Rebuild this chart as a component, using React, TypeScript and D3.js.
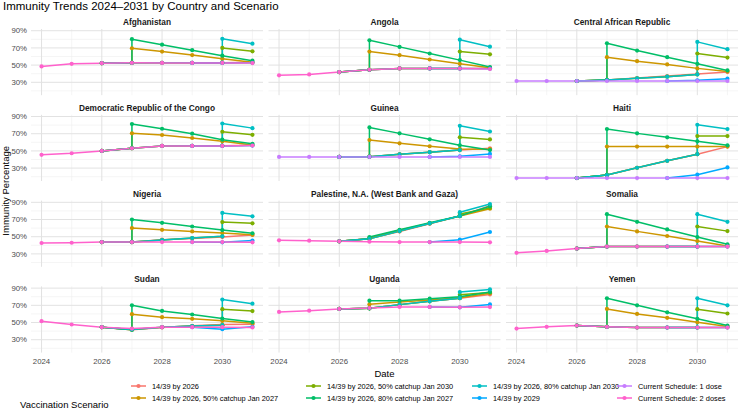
import React from 'react';
import * as d3 from 'd3';

type Pt = [number, number];

// consecutive yearly values starting at a given year
const run = (start: number, values: number[]): Pt[] => values.map((v, i) => [start + i, v]);

const years = [2024, 2025, 2026, 2027, 2028, 2029, 2030, 2031];
const xTicks = [2024, 2026, 2028, 2030];
const yTicks = [30, 50, 70, 90];
const yMinor = [20, 40, 60, 80];

const scenarios = [
  '14/39 by 2026',
  '14/39 by 2026, 50% catchup Jan 2027',
  '14/39 by 2026, 50% catchup Jan 2030',
  '14/39 by 2026, 80% catchup Jan 2027',
  '14/39 by 2026, 80% catchup Jan 2030',
  '14/39 by 2029',
  'Current Schedule: 1 dose',
  'Current Schedule: 2 doses',
];
const palette = ['#F8766D', '#CD9600', '#7CAE00', '#00BE67', '#00BFC4', '#00A9FF', '#C77CFF', '#FF61CC'];

const countries = [
  'Afghanistan', 'Angola', 'Central African Republic',
  'Democratic Republic of the Congo', 'Guinea', 'Haiti',
  'Nigeria', 'Palestine, N.A. (West Bank and Gaza)', 'Somalia',
  'Sudan', 'Uganda', 'Yemen',
];

// one entry per scenario, in the order of `scenarios` (null = not modelled)
const afghanistan: (Pt[] | null)[] = [
  run(2026, [52.3, 52.6, 52.6, 52.7, 52.8, 53.2]),
  [...run(2026, [52.3, 52.6]), ...run(2027, [69.6, 65.8, 61.7, 57.5, 53.2])],
  [...run(2026, [52.3, 52.6, 52.6, 52.7, 52.8]), ...run(2030, [70, 66])],
  [...run(2026, [52.3, 52.6]), ...run(2027, [80.2, 73.8, 67.4, 61, 55.1])],
  [...run(2026, [52.3, 52.6, 52.6, 52.7, 52.8]), ...run(2030, [80.6, 74.9])],
  run(2029, [52.5, 52.5, 52.6]),
  null,
  run(2024, [48.5, 51.5, 52.3, 52.6, 52.5, 52.5, 52.5, 52.4]),
];

const angola: (Pt[] | null)[] = [
  run(2026, [41.9, 44.6, 46.2, 46.2, 46.2, 46.3]),
  [...run(2026, [41.9, 44.6]), ...run(2027, [65.8, 61.5, 56.5, 51.5, 47])],
  [...run(2026, [41.9, 44.6, 46.2, 46.2, 46.2]), ...run(2030, [65.8, 62.5])],
  [...run(2026, [41.9, 44.6]), ...run(2027, [78.8, 71.2, 63.5, 55.8, 47.8])],
  [...run(2026, [41.9, 44.6, 46.2, 46.2, 46.2]), ...run(2030, [79.6, 71.4])],
  run(2029, [46.2, 46, 45.8]),
  null,
  run(2024, [38.1, 39.2, 41.9, 44.6, 46.2, 46.2, 46, 45.5]),
];

const car: (Pt[] | null)[] = [
  run(2026, [31.5, 32.7, 35, 37.3, 39.6, 41.9]),
  [...run(2026, [31.5, 32.7]), ...run(2027, [59.2, 54.6, 50.8, 46.2, 42.7])],
  [...run(2026, [31.5, 32.7, 34.6, 36.5, 39.2]), ...run(2030, [63.5, 58.8])],
  [...run(2026, [31.5, 32.7]), ...run(2027, [75.4, 66.9, 59.2, 51.5, 43.8])],
  [...run(2026, [31.5, 32.7, 34.6, 36.5, 39.2]), ...run(2030, [77, 68.5])],
  run(2029, [31.5, 32.3, 34.2]),
  run(2024, [31.5, 31.5, 31.5, 31.5, 31.5, 31.5, 31.5, 31.5]),
  null,
];

const drc: (Pt[] | null)[] = [
  run(2026, [50, 53.1, 55.8, 55.9, 56, 56.5]),
  [...run(2026, [50, 53.1]), ...run(2027, [70.4, 68.5, 65, 61.2, 57])],
  [...run(2026, [50, 53.1, 55.8, 55.9, 56]), ...run(2030, [72.3, 68.7])],
  [...run(2026, [50, 53.1]), ...run(2027, [81.2, 75.8, 70, 63.1, 58.3])],
  [...run(2026, [50, 53.1, 55.8, 55.9, 56]), ...run(2030, [81.9, 76.5])],
  run(2029, [55.8, 55.8, 56.2]),
  null,
  run(2024, [45.4, 47.3, 50, 53.1, 55.8, 55.8, 55.8, 56.3]),
];

const guinea: (Pt[] | null)[] = [
  run(2026, [43, 43.3, 46, 48.5, 51, 53]),
  [...run(2026, [43, 43.3]), ...run(2027, [62.7, 58.8, 55.4, 52.3, 52])],
  [...run(2026, [43, 43.3, 46, 48.5, 51]), ...run(2030, [65.8, 63.3])],
  [...run(2026, [43, 43.3]), ...run(2027, [77.3, 70.4, 63.5, 56.5, 51])],
  [...run(2026, [43, 43.3, 46, 48.5, 51]), ...run(2030, [79.2, 72.6])],
  run(2029, [43, 43.8, 46.5]),
  run(2024, [43, 43, 43, 43, 43, 43, 43, 43]),
  null,
];

const haiti: (Pt[] | null)[] = [
  run(2026, [18.5, 22, 30.4, 38.5, 46.2, 55]),
  [...run(2026, [18.5, 22]), ...run(2027, [55, 55, 55, 55, 55])],
  [...run(2026, [18.5, 22, 30.4, 38.5, 46.2]), ...run(2030, [67.3, 67.3])],
  [...run(2026, [18.5, 22]), ...run(2027, [75.4, 70.4, 65.8, 61.2, 56.5])],
  [...run(2026, [18.5, 22, 30.4, 38.5, 46.2]), ...run(2030, [80.4, 75.4])],
  run(2029, [18.5, 22.3, 30.8]),
  run(2024, [18.5, 18.5, 18.5, 18.5, 18.5, 18.5, 18.5, 18.5]),
  null,
];

const nigeria: (Pt[] | null)[] = [
  run(2026, [43.8, 43.8, 46.5, 48, 49.6, 52]),
  [...run(2026, [43.8, 43.8]), ...run(2027, [60, 58, 56.2, 54.2, 52.2])],
  [...run(2026, [43.8, 43.8, 46.2, 48.5, 50.4]), ...run(2030, [67, 65.6])],
  [...run(2026, [43.8, 43.8]), ...run(2027, [70, 66.2, 61.9, 57.7, 54])],
  [...run(2026, [43.8, 43.8, 46.2, 48.5, 50.4]), ...run(2030, [77.7, 73.7])],
  run(2029, [43.8, 43.5, 45.5]),
  null,
  run(2024, [42.7, 43, 43.8, 43.8, 43.8, 43.8, 43.8, 43.5]),
];

const palestine: (Pt[] | null)[] = [
  run(2026, [44.6, 48, 56, 65, 74, 86]),
  [...run(2026, [44.6, 47.5]), ...run(2027, [48.5, 57.5, 65.8, 74.2, 82.5])],
  [...run(2026, [44.6, 47.5, 56.5, 65.4, 74]), ...run(2030, [76.5, 83.5])],
  [...run(2026, [44.6, 47.5]), ...run(2027, [49.6, 58, 66.2, 74.2, 85.4])],
  [...run(2026, [44.6, 47.5, 56.5, 65.4, 74]), ...run(2030, [78.5, 88])],
  run(2029, [43.8, 46.5, 55.5]),
  null,
  run(2024, [45.8, 45.4, 44.6, 44.2, 43.8, 43.8, 43.8, 43.5]),
];

const somalia: (Pt[] | null)[] = [
  run(2026, [36.2, 38.5, 38.5, 38.5, 38.5, 38.6]),
  [...run(2026, [36.2, 38.5]), ...run(2027, [61.9, 56.2, 50.8, 45, 39.2])],
  [...run(2026, [36.2, 38.5, 38.5, 38.5, 38.5]), ...run(2030, [61.9, 56.5])],
  [...run(2026, [36.2, 38.5]), ...run(2027, [76.2, 67.3, 58.5, 49.6, 41.2])],
  [...run(2026, [36.2, 38.5, 38.5, 38.5, 38.5]), ...run(2030, [76.2, 67.3])],
  run(2029, [38.5, 38.5, 38.5]),
  null,
  run(2024, [31.2, 33.5, 36.2, 38.5, 38.5, 38.5, 38.5, 38.5]),
];

const sudan: (Pt[] | null)[] = [
  run(2026, [44.6, 41.5, 44.3, 46.1, 47.7, 48.1]),
  [...run(2026, [44.6, 41.5]), ...run(2027, [59.7, 56.2, 54.3, 52, 49])],
  [...run(2026, [44.6, 41.9, 44.6, 45.8, 46.9]), ...run(2030, [65.5, 63.3])],
  [...run(2026, [44.6, 41.5]), ...run(2027, [70, 63.5, 59.3, 54.6, 50.5])],
  [...run(2026, [44.6, 41.9, 44.6, 45.8, 46.9]), ...run(2030, [76.7, 71.9])],
  run(2029, [44.6, 42.2, 45]),
  null,
  run(2024, [51.6, 47.7, 44.6, 43, 44.6, 44.6, 44.6, 44.3]),
];

const uganda: (Pt[] | null)[] = [
  run(2026, [65.8, 66.5, 70.8, 74.6, 78.3, 82.7]),
  [...run(2026, [65.8, 66.5]), ...run(2027, [71.2, 73.8, 76.2, 78.8, 84])],
  [...run(2026, [65.8, 66.5, 70.8, 74.6, 78.3]), ...run(2030, [82.3, 85])],
  [...run(2026, [65.8, 66.5]), ...run(2027, [75.4, 75.4, 77.7, 80, 85.4])],
  [...run(2026, [65.8, 66.5, 70.8, 74.6, 78.3]), ...run(2030, [85.4, 88.5])],
  run(2029, [68.1, 67.7, 71]),
  null,
  run(2024, [62.3, 63.8, 65.8, 66.9, 68.1, 68.1, 67.7, 68]),
];

const yemen: (Pt[] | null)[] = [
  run(2026, [46.5, 45, 44.2, 44.2, 44.2, 44.3]),
  [...run(2026, [46.5, 45]), ...run(2027, [65.8, 60, 55.4, 50.4, 45.4])],
  [...run(2026, [46.5, 45, 44.2, 44.2, 44.2]), ...run(2030, [65.5, 60.5])],
  [...run(2026, [46.5, 45]), ...run(2027, [78.1, 70, 61.9, 54.3, 46.5])],
  [...run(2026, [46.5, 45, 44.2, 44.2, 44.2]), ...run(2030, [78.1, 70])],
  run(2029, [44.2, 44.2, 44.2]),
  null,
  run(2024, [43, 45, 46.5, 45, 44.2, 44.2, 44.2, 44.2]),
];

const panels = [afghanistan, angola, car, drc, guinea, haiti, nigeria, palestine, somalia, sudan, uganda, yemen];

const FONT = '"Liberation Sans", Arial, Helvetica, sans-serif';
const W = 740;
const H = 418;
const colLeft = [31, 268.5, 506];
const panelW = 232;
const rowTop = [29, 114.8, 200.6, 286.4];
const panelH = 66.2;

export default function App() {
  // shared scales (ggplot-style 5% expansion)
  const allVals = panels.flatMap(p => p.flatMap(s => (s ? s.map(d => d[1]) : [])));
  const [lo, hi] = d3.extent(allVals) as [number, number];
  const pad = (hi - lo) * 0.05;
  const xPad = (d3.max(years)! - d3.min(years)!) * 0.05;
  const xBase = d3.scaleLinear().domain([d3.min(years)! - xPad, d3.max(years)! + xPad]).range([0, panelW]);
  const yBase = d3.scaleLinear().domain([lo - pad, hi + pad]).range([panelH, 0]);

  const line = d3.line<Pt>().x(d => xBase(d[0])).y(d => yBase(d[1]));

  const legendCols = [131, 306, 472, 617];
  const legendRows = [386, 398];

  return (
    <svg width={W} height={H} style={{ position: 'absolute', left: 0, top: 0, background: '#fff' }} fontFamily={FONT}>
      <text x={3} y={10} fontSize={11.5} fill="#000">Immunity Trends 2024–2031 by Country and Scenario</text>

      {panels.map((series, i) => {
        const col = i % 3;
        const row = Math.floor(i / 3);
        const tx = colLeft[col];
        const ty = rowTop[row];
        return (
          <g key={countries[i]} transform={`translate(${tx},${ty})`}>
            {/* grid */}
            {yMinor.map(v => (
              <line key={`ym${v}`} x1={0} x2={panelW} y1={yBase(v)} y2={yBase(v)} stroke="#EEEEEE" strokeWidth={0.6} />
            ))}
            {years.filter(y => !xTicks.includes(y)).map(v => (
              <line key={`xm${v}`} x1={xBase(v)} x2={xBase(v)} y1={0} y2={panelH} stroke="#EEEEEE" strokeWidth={0.6} />
            ))}
            {yTicks.map(v => (
              <line key={`y${v}`} x1={0} x2={panelW} y1={yBase(v)} y2={yBase(v)} stroke="#E2E2E2" strokeWidth={1} />
            ))}
            {xTicks.map(v => (
              <line key={`x${v}`} x1={xBase(v)} x2={xBase(v)} y1={0} y2={panelH} stroke="#E2E2E2" strokeWidth={1} />
            ))}

            <text x={panelW / 2} y={-4} textAnchor="middle" fontSize={8.3} fontWeight="bold" fill="#1A1A1A">
              {countries[i]}
            </text>

            {series.map((s, k) =>
              s ? (
                <path key={`l${k}`} d={line(s) || ''} fill="none" stroke={palette[k]} strokeWidth={1.5} strokeLinejoin="round" />
              ) : null
            )}
            {series.map((s, k) =>
              s ? (
                <g key={`p${k}`} fill={palette[k]}>
                  {s.map((d, j) => (
                    <circle key={j} cx={xBase(d[0])} cy={yBase(d[1])} r={2.1} />
                  ))}
                </g>
              ) : null
            )}

            {col === 0 &&
              yTicks.map(v => (
                <text key={`yl${v}`} x={-4} y={yBase(v)} dy="0.35em" textAnchor="end" fontSize={7.8} fill="#4D4D4D">
                  {v}%
                </text>
              ))}
            {row === 3 &&
              xTicks.map(v => (
                <text key={`xl${v}`} x={xBase(v)} y={panelH + 11} textAnchor="middle" fontSize={7.8} fill="#4D4D4D">
                  {v}
                </text>
              ))}
          </g>
        );
      })}

      <text x={(colLeft[0] + colLeft[2] + panelW) / 2} y={377} textAnchor="middle" fontSize={9.5} fill="#000">Date</text>
      <text
        transform={`translate(9,${(rowTop[0] + rowTop[3] + panelH) / 2}) rotate(-90)`}
        textAnchor="middle"
        fontSize={9.5}
        fill="#000"
      >
        Immunity Percentage
      </text>

      <text x={20} y={408} fontSize={9.5} fill="#000">Vaccination Scenario</text>
      {scenarios.map((s, k) => {
        const c = Math.floor(k / 2);
        const r = k % 2;
        const lx = legendCols[c];
        const ly = legendRows[r];
        return (
          <g key={s}>
            <line x1={lx} x2={lx + 15} y1={ly} y2={ly} stroke={palette[k]} strokeWidth={1.5} />
            <circle cx={lx + 7.5} cy={ly} r={2.1} fill={palette[k]} />
            <text x={lx + 21} y={ly} dy="0.35em" fontSize={7.4} fill="#000">{s}</text>
          </g>
        );
      })}
    </svg>
  );
}
